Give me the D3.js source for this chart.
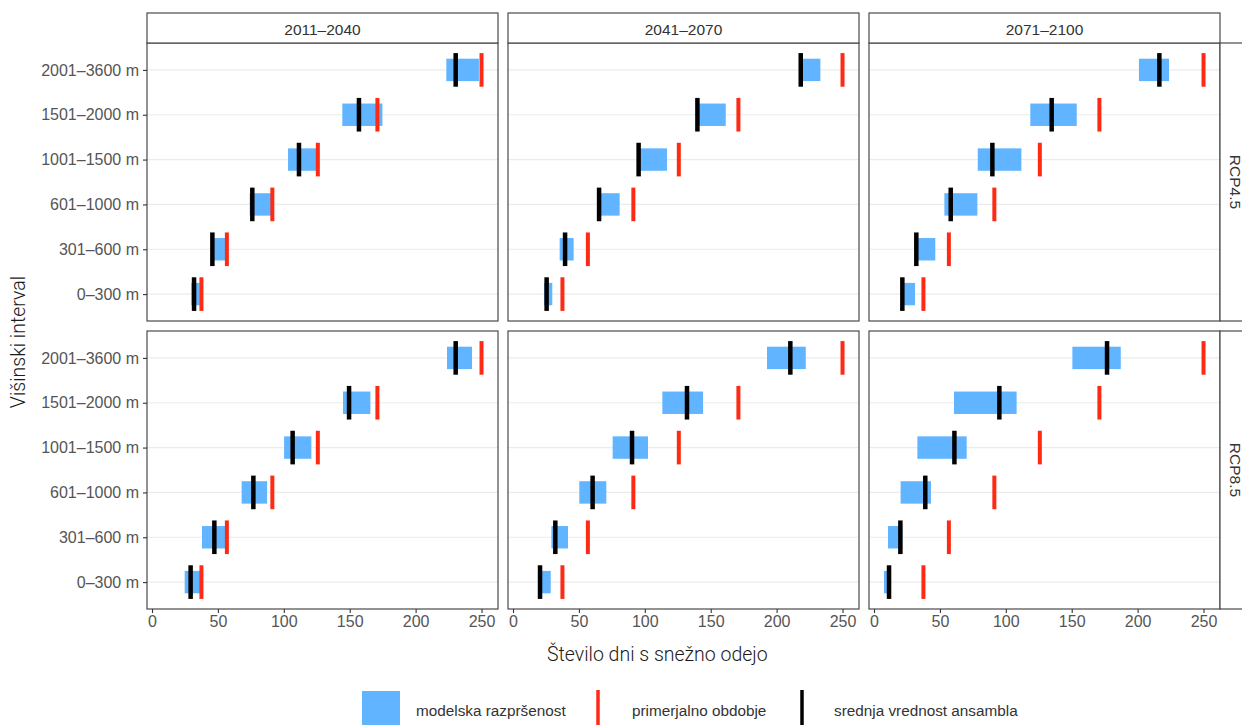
<!DOCTYPE html>
<html>
<head>
<meta charset="utf-8">
<script src="https://cdn.jsdelivr.net/npm/d3@7"></script>
<style>
  html, body { margin: 0; padding: 0; background: #fff; }
  svg { display: block; }
</style>
</head>
<body>
<svg id="chart" width="1242" height="725"></svg>
<script>
// Elevation bands, bottom to top
const categories = ["0–300 m", "301–600 m", "601–1000 m", "1001–1500 m", "1501–2000 m", "2001–3600 m"];
const periods = ["2011–2040", "2041–2070", "2071–2100"];
const scenarios = ["RCP4.5", "RCP8.5"];
const xTicks = [0, 50, 100, 150, 200, 250];

// Reference period (days with snow cover), per elevation band
const reference = [37.5, 56.8, 91.3, 125.8, 171, 250];

// Model spread (low / high) and ensemble mean, per scenario and period
const rcp45_2011_low  = [29.8, 46.3, 74.1, 103.2, 144.4, 223.3];
const rcp45_2011_high = [36.2, 55.9, 90.5, 124.7, 174.8, 248.0];
const rcp45_2011_mean = [31.9, 45.8, 76.1, 111.5, 157.0, 230.4];

const rcp45_2041_low  = [23.5, 35.4, 65.8, 95.8, 140.4, 218.8];
const rcp45_2041_high = [29.8, 46.0, 80.9, 116.8, 161.4, 233.2];
const rcp45_2041_mean = [25.5, 39.5, 65.3, 95.3, 139.9, 218.3];

const rcp45_2071_low  = [22.3, 32.4, 53.4, 78.7, 118.6, 201.0];
const rcp45_2071_high = [31.1, 46.5, 78.4, 111.8, 153.8, 223.8];
const rcp45_2071_mean = [21.5, 32.1, 58.2, 89.8, 134.8, 216.5];

const rcp85_2011_low  = [24.8, 37.9, 68.0, 100.2, 144.9, 223.8];
const rcp85_2011_high = [36.7, 55.9, 87.3, 120.9, 165.7, 242.8];
const rcp85_2011_mean = [29.3, 47.3, 76.9, 106.7, 149.5, 230.4];

const rcp85_2041_low  = [19.2, 29.1, 50.3, 75.6, 113.3, 192.7];
const rcp85_2041_high = [28.6, 41.7, 70.8, 102.4, 144.2, 222.1];
const rcp85_2041_mean = [20.5, 32.1, 60.4, 90.3, 132.0, 210.4];

const rcp85_2071_low  = [7.6, 10.6, 20.2, 32.9, 60.7, 150.5];
const rcp85_2071_high = [10.9, 21.5, 43.2, 70.3, 108.2, 187.2];
const rcp85_2071_mean = [11.4, 20.0, 38.9, 61.0, 95.1, 176.8];

const legendLabels = ["modelska razpršenost", "primerjalno obdobje", "srednja vrednost ansambla"];

// Assemble panel table
const panelSeries = {
  "RCP4.5": [
    [rcp45_2011_low, rcp45_2011_high, rcp45_2011_mean],
    [rcp45_2041_low, rcp45_2041_high, rcp45_2041_mean],
    [rcp45_2071_low, rcp45_2071_high, rcp45_2071_mean]
  ],
  "RCP8.5": [
    [rcp85_2011_low, rcp85_2011_high, rcp85_2011_mean],
    [rcp85_2041_low, rcp85_2041_high, rcp85_2041_mean],
    [rcp85_2071_low, rcp85_2071_high, rcp85_2071_mean]
  ]
};

const colors = { spread: "#61b4ff", ref: "#ff2a14", mean: "#000000" };
const border = "#4a4a4a";
const tickText = "#555555";
const sansFont = "'Liberation Sans', Arial, sans-serif";

const svg = d3.select("#chart");

// Layout
const panelLeft = 147, panelW = 351, colGap = 10;
const stripTop = 13, stripH = 30;
const rowTops = [43, 331], panelH = 278;
const rightStripW = 28;

const x = d3.scaleLinear().domain([-3.8, 262.5]).range([0, panelW]);
const y = d3.scalePoint().domain(categories.slice().reverse()).range([0, panelH]).padding(0.6);
const step = y.step();
const spreadH = step * 0.5, lineH = step * 0.75;

scenarios.forEach((sc, r) => {
  periods.forEach((p, c) => {
    const px = panelLeft + c * (panelW + colGap);
    const py = rowTops[r];
    const g = svg.append("g").attr("transform", `translate(${px},${py})`);

    // grid
    g.selectAll("line.grid").data(categories).join("line")
      .attr("x1", 0).attr("x2", panelW)
      .attr("y1", d => y(d)).attr("y2", d => y(d))
      .attr("stroke", "#ebebeb").attr("stroke-width", 1.1);

    const [lo, hi, mn] = panelSeries[sc][c];
    const rows = categories.map((cat, i) => ({ cat, lo: lo[i], hi: hi[i], mn: mn[i], ref: reference[i] }));

    // model spread
    g.selectAll("rect.spread").data(rows).join("rect")
      .attr("x", d => x(d.lo)).attr("width", d => x(d.hi) - x(d.lo))
      .attr("y", d => y(d.cat) - spreadH / 2).attr("height", spreadH)
      .attr("fill", colors.spread);

    // reference period
    g.selectAll("line.ref").data(rows).join("line")
      .attr("x1", d => x(d.ref)).attr("x2", d => x(d.ref))
      .attr("y1", d => y(d.cat) - lineH / 2).attr("y2", d => y(d.cat) + lineH / 2)
      .attr("stroke", colors.ref).attr("stroke-width", 4);

    // ensemble mean
    g.selectAll("line.mean").data(rows).join("line")
      .attr("x1", d => x(d.mn)).attr("x2", d => x(d.mn))
      .attr("y1", d => y(d.cat) - lineH / 2).attr("y2", d => y(d.cat) + lineH / 2)
      .attr("stroke", colors.mean).attr("stroke-width", 4.5);

    // panel border
    g.append("rect").attr("x", 0).attr("y", 0).attr("width", panelW).attr("height", panelH)
      .attr("fill", "none").attr("stroke", border).attr("stroke-width", 1.2);

    // y axis on first column
    if (c === 0) {
      const ya = d3.axisLeft(y).tickSize(4).tickPadding(4);
      const ag = g.append("g").call(ya);
      ag.select(".domain").remove();
      ag.selectAll(".tick line").attr("stroke", "#333").attr("stroke-width", 1.1);
      ag.selectAll(".tick text").attr("fill", tickText)
        .style("font-family", sansFont).style("font-size", "16px");
    }
    // x axis on bottom row
    if (r === scenarios.length - 1) {
      const xa = d3.axisBottom(x).tickValues(xTicks).tickSize(4).tickPadding(3);
      const ag = g.append("g").attr("transform", `translate(0,${panelH})`).call(xa);
      ag.select(".domain").remove();
      ag.selectAll(".tick line").attr("stroke", "#333").attr("stroke-width", 1.1);
      ag.selectAll(".tick text").attr("fill", tickText)
        .style("font-family", sansFont).style("font-size", "16px");
    }

    // top strips
    if (r === 0) {
      const sg = svg.append("g").attr("transform", `translate(${px},${stripTop})`);
      sg.append("rect").attr("width", panelW).attr("height", stripH)
        .attr("fill", "#fff").attr("stroke", border).attr("stroke-width", 1.2);
      sg.append("text").attr("x", panelW / 2).attr("y", stripH / 2 + 1)
        .attr("text-anchor", "middle").attr("dominant-baseline", "central")
        .attr("fill", "#333").style("font-family", sansFont)
        .style("font-size", "15.5px").text(p);
    }
    // right strips
    if (c === periods.length - 1) {
      const sx = px + panelW;
      const sg = svg.append("g").attr("transform", `translate(${sx},${py})`);
      sg.append("rect").attr("width", rightStripW).attr("height", panelH)
        .attr("fill", "#fff").attr("stroke", border).attr("stroke-width", 1.2);
      sg.append("text").attr("transform", `translate(${rightStripW / 2 + 1},${panelH / 2}) rotate(90)`)
        .attr("text-anchor", "middle").attr("dominant-baseline", "central")
        .attr("fill", "#333").style("font-family", sansFont)
        .style("font-size", "15.5px").text(sc);
    }
  });
});

// axis titles
svg.append("text").attr("x", 547).attr("y", 661)
  .attr("fill", "#1a1a1a").style("font-family", "Roboto, sans-serif").style("font-weight", 300)
  .style("font-size", "19.5px").text("Število dni s snežno odejo");
svg.append("text").attr("transform", "translate(25,342) rotate(-90)")
  .attr("text-anchor", "middle").attr("fill", "#1a1a1a")
  .style("font-family", "Roboto, sans-serif").style("font-weight", 300)
  .style("font-size", "19.5px").text("Višinski interval");

// legend
const lg = svg.append("g");
lg.append("rect").attr("x", 362).attr("y", 691).attr("width", 38).attr("height", 40).attr("fill", colors.spread);
lg.append("text").attr("x", 416).attr("y", 716).attr("fill", "#333")
  .style("font-family", sansFont).style("font-size", "15.3px").text(legendLabels[0]);
lg.append("line").attr("x1", 598).attr("x2", 598).attr("y1", 690).attr("y2", 730)
  .attr("stroke", colors.ref).attr("stroke-width", 3.5);
lg.append("text").attr("x", 632).attr("y", 716).attr("fill", "#333")
  .style("font-family", sansFont).style("font-size", "15.3px").text(legendLabels[1]);
lg.append("line").attr("x1", 802).attr("x2", 802).attr("y1", 690).attr("y2", 730)
  .attr("stroke", colors.mean).attr("stroke-width", 3.5);
lg.append("text").attr("x", 834).attr("y", 716).attr("fill", "#333")
  .style("font-family", sansFont).style("font-size", "15.3px").text(legendLabels[2]);
</script>
</body>
</html>
